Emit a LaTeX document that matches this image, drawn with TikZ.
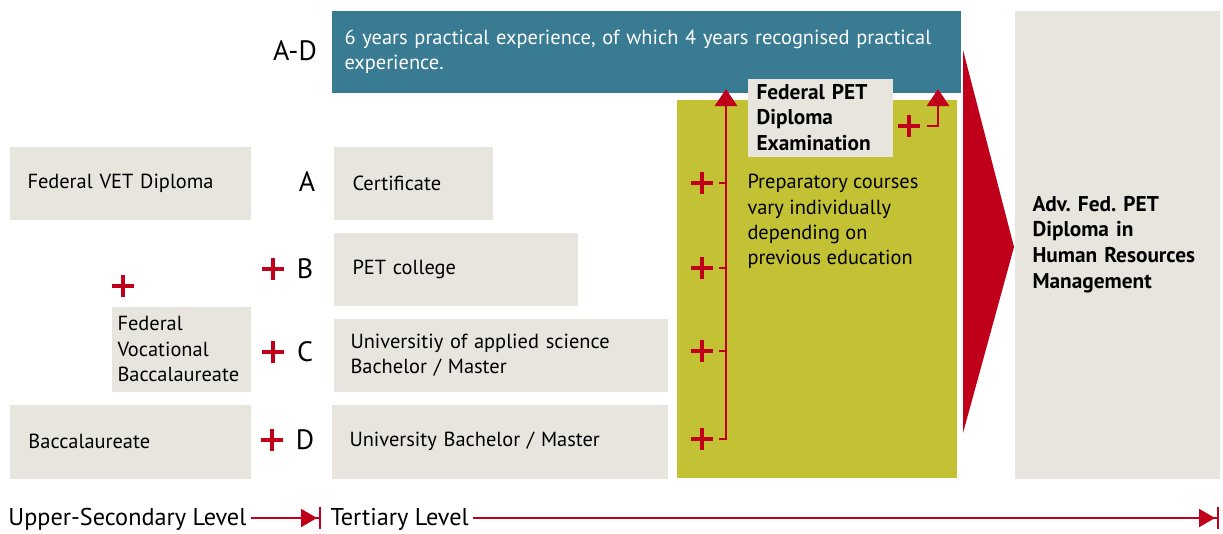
\documentclass[tikz,border=0pt]{standalone}
\usepackage{fontspec}
\setmainfont{PT Sans}
\usetikzlibrary{arrows.meta,positioning}

\definecolor{boxgray}{RGB}{232,229,223}
\definecolor{petteal}{RGB}{57,123,147}
\definecolor{petgreen}{RGB}{195,194,53}
\definecolor{petred}{RGB}{192,0,27}

\tikzset{every picture/.style={line width=0.75pt}}
\tikzset{
  pbox/.style={fill=boxgray, anchor=north west, align=left, inner ysep=0pt},
  boldtext/.style={font=\fontsize{16}{19}\selectfont\bfseries\frenchspacing},
  letter/.style={font=\fontsize{21}{24}\selectfont},
  plus/.style={minimum size=16.5pt, inner sep=0pt, path picture={
      \draw[petred, line width=3.2pt]
        (path picture bounding box.north) -- (path picture bounding box.south)
        (path picture bounding box.west) -- (path picture bounding box.east);}},
  redline/.style={petred, line width=2.2pt},
  uptip/.style={-{Triangle[length=12.75pt,width=16.5pt]}},
  axis/.style={petred, line width=1.5pt,
    -{Triangle[length=12pt,width=13.5pt,sep=1.5pt]Bar[width=17pt,line width=1.5pt]}},
  level/.style={anchor=west, inner sep=0pt, font=\fontsize{18.2}{20}\selectfont}
}

\begin{document}
\begin{tikzpicture}[x=0.75pt,y=0.75pt,yscale=-1,font=\fontsize{15.3}{19}\selectfont\frenchspacing]
	\useasboundingbox (0,0) rectangle (1223,533);

	%Shape: Rectangle [experience]
	\node[pbox, fill=petteal, text=white, inner xsep=9.75pt, text width=452.25pt, minimum width=471.75pt, minimum height=61.5pt] (exp) at (331,10)
		{6 years practical experience, of which 4 years recognised practical\\experience.};
	%Shape: Rectangle [green]
	\path[fill=petgreen] (677,100) rectangle (957,478);
	%Shape: Rectangle [exam]
	\node[pbox, boldtext, inner xsep=6.75pt, text width=95.25pt, minimum width=108.75pt, minimum height=58.5pt] (exam) at (747,78)
		{Federal PET\\Diploma\\Examination};

	%Shape: Rectangle [left column]
	\node[pbox, inner xsep=13.5pt, text width=153.75pt, minimum width=180.75pt, minimum height=54.75pt] (vet) at (9,146) {Federal VET Diploma};
	\node[pbox, inner xsep=4.5pt, text width=95.25pt, minimum width=104.25pt, minimum height=63.75pt] (fvb) at (111,306)
		{Federal\\Vocational\\Baccalaureate};
	\node[pbox, inner xsep=14.25pt, text width=152.25pt, minimum width=180.75pt, minimum height=55.5pt] (bacc) at (9,404) {Baccalaureate};

	%Shape: Rectangle [tertiary column]
	\node[pbox, inner xsep=14.25pt, text width=90.75pt, minimum width=119.25pt, minimum height=54.75pt] (cert) at (333,146) {Certificate};
	\node[pbox, inner xsep=14.25pt, text width=154.5pt, minimum width=183pt, minimum height=54.75pt] (pet) at (333,232) {PET college};
	\node[pbox, inner xsep=12.75pt, text width=225pt, minimum width=250.5pt, minimum height=54.75pt] (uas) at (333,318)
		{Universitiy of applied science\\Bachelor / Master};
	\node[pbox, inner xsep=13.5pt, text width=225pt, minimum width=252pt, minimum height=55.5pt] (uni) at (331,404) {University Bachelor / Master};

	%Shape: Rectangle [advanced diploma]
	\node[pbox, boldtext, font=\fontsize{16}{19.3}\selectfont\bfseries\frenchspacing, inner xsep=13.5pt, text width=126.75pt, minimum width=153.75pt, minimum height=351pt] (adv) at (1014,10)
		{Adv. Fed. PET\\Diploma in\\Human Resources\\Management};

	%Shape: Triangle
	\fill[petred] (963,50) -- (1014,247) -- (963,433) -- cycle;

	% Text Node
	\node[anchor=west, inner sep=0pt, align=left] (prep) at (747,221.5)
		{Preparatory courses\\vary individually\\depending on\\previous education};

	% Text Node
	\node[letter] (lAD) at (295,51) {A-D};
	\node[letter] (lA) at (307,182) {A};
	\node[letter] (lB) at (305,269) {B};
	\node[letter] (lC) at (305,352) {C};
	\node[letter] (lD) at (305,440) {D};

	% Plus signs
	\node[plus] (pF) at (123,286) {};
	\node[plus] (pB) at (273,269) {};
	\node[plus] (pC) at (273,352) {};
	\node[plus] (pD) at (272,440) {};
	\node[plus] (g1) at (702,183) {};
	\node[plus] (g2) at (702,268) {};
	\node[plus] (g3) at (702,351) {};
	\node[plus] (g4) at (702,439) {};
	\node[plus] (pE) at (909,126) {};

	\coordinate (tipL) at (726,89);
	\coordinate (tipR) at (938,89);

	%Straight Lines
	\draw[redline, uptip] ([xshift=3.75pt]g4.east) -| (tipL);
	\draw[redline] ([xshift=3.75pt]g1.east) -- (g1 -| tipL);
	\draw[redline] ([xshift=3.75pt]g2.east) -- (g2 -| tipL);
	\draw[redline] ([xshift=3.75pt]g3.east) -- (g3 -| tipL);
	\draw[redline, uptip] ([xshift=5pt]pE.east) -| (tipR);

	% Text Node
	\node[level] (upper) at (8,519) {Upper-Secondary Level};
	\node[level] (tert) at (330,519) {Tertiary Level};
	\coordinate (bar1) at (321,518);
	\coordinate (bar2) at (1219,518);

	%Straight Lines
	\draw[axis] ([xshift=3pt]upper.east |- bar1) -- (bar1);
	\draw[axis] ([xshift=3pt]tert.east |- bar2) -- (bar2);

\end{tikzpicture}
\end{document}
